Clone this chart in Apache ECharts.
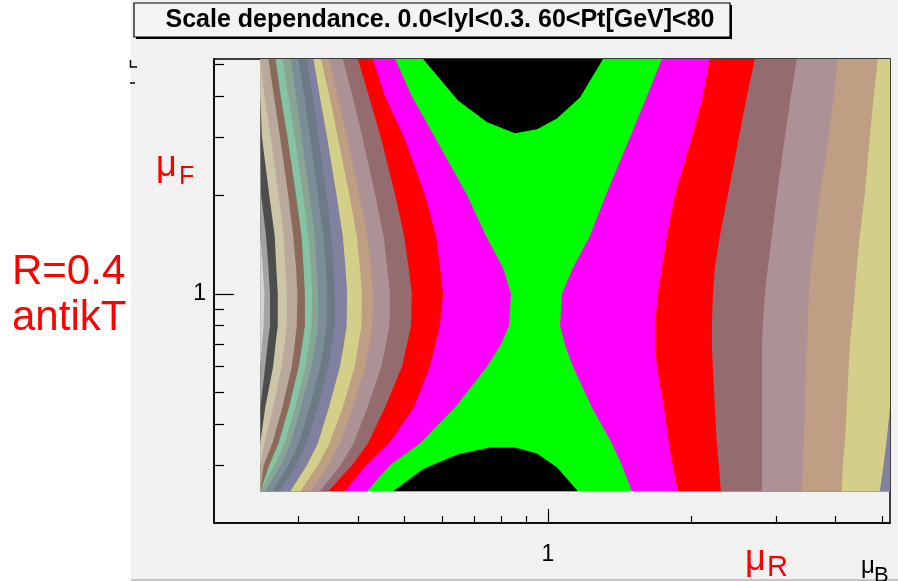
<!DOCTYPE html>
<html>
<head>
<meta charset="utf-8">
<script src="https://cdn.jsdelivr.net/npm/echarts@6/dist/echarts.min.js"></script>
<style>
html, body { margin: 0; padding: 0; background: #ffffff; }
#c { width: 898px; height: 581px; }
</style>
</head>
<body>
<div id="c"></div>
<script>
// Factorisation scale (mu_F) rows at which every contour edge is sampled, top to bottom
const muF = [5.2, 4, 3, 2, 1.5, 1.2, 1, 0.8, 0.7, 0.6, 0.45, 0.35, 0.3, 0.25];

// Renormalisation scale (mu_R) of each contour edge on the low-mu_R side, one value per mu_F row.
// leftEdgeN separates band N (to its left) from band N+1.
const leftEdge01 = [0.25,0.25,0.25,0.25,0.25,0.253,0.255,0.254,0.252,0.25,0.25,0.25,0.25,0.25];
const leftEdge02 = [0.25,0.25,0.25,0.251,0.257,0.26,0.262,0.262,0.259,0.256,0.25,0.25,0.25,0.25];
const leftEdge03 = [0.25,0.25,0.252,0.261,0.268,0.27,0.272,0.272,0.269,0.266,0.256,0.25,0.25,0.25];
const leftEdge04 = [0.25,0.255,0.263,0.273,0.28,0.282,0.284,0.284,0.281,0.277,0.266,0.255,0.25,0.25];
const leftEdge05 = [0.26,0.267,0.275,0.286,0.293,0.297,0.299,0.298,0.295,0.291,0.278,0.265,0.254,0.25];
const leftEdge06 = [0.269,0.276,0.285,0.297,0.305,0.308,0.31,0.31,0.306,0.301,0.287,0.273,0.261,0.25];
const leftEdge07 = [0.278,0.286,0.295,0.307,0.315,0.319,0.321,0.32,0.316,0.311,0.296,0.281,0.268,0.25];
const leftEdge08 = [0.289,0.297,0.305,0.317,0.325,0.328,0.33,0.33,0.326,0.32,0.304,0.289,0.276,0.256];
const leftEdge09 = [0.3,0.309,0.318,0.33,0.339,0.343,0.345,0.344,0.34,0.334,0.317,0.301,0.286,0.265];
const leftEdge10 = [0.313,0.322,0.331,0.344,0.352,0.356,0.358,0.358,0.353,0.347,0.33,0.312,0.297,0.275];
const leftEdge11 = [0.323,0.333,0.345,0.361,0.372,0.377,0.38,0.379,0.374,0.367,0.348,0.33,0.313,0.289];
const leftEdge12 = [0.335,0.349,0.363,0.384,0.398,0.404,0.408,0.407,0.401,0.394,0.372,0.349,0.33,0.303];
const leftEdge13 = [0.348,0.363,0.38,0.403,0.419,0.426,0.43,0.429,0.423,0.415,0.39,0.367,0.347,0.318];
const leftEdge14 = [0.372,0.39,0.409,0.435,0.453,0.461,0.467,0.466,0.458,0.448,0.419,0.392,0.368,0.333];
const leftEdge15 = [0.4,0.422,0.447,0.479,0.5,0.511,0.519,0.517,0.507,0.495,0.456,0.42,0.389,0.347];
const leftEdge16 = [0.43,0.456,0.5,0.553,0.583,0.595,0.603,0.594,0.581,0.566,0.524,0.465,0.416,0.376];
const leftEdge17 = [0.479,0.519,0.58,0.677,0.742,0.805,0.837,0.829,0.797,0.746,0.639,0.54,0.467,0.418];

// Contour edges on the high-mu_R side; rightEdgeN opens the band to its right.
const rightEdge1 = [1.732,1.611,1.485,1.322,1.224,1.128,1.07,1.06,1.085,1.128,1.236,1.361,1.428,1.499];
const rightEdge2 = [2.182,2.11,2.001,1.844,1.774,1.732,1.699,1.675,1.675,1.691,1.749,1.791,1.826,1.871];
const rightEdge3 = [2.711,2.608,2.51,2.38,2.29,2.236,2.214,2.204,2.204,2.214,2.236,2.257,2.279,2.301];
const rightEdge4 = [3.319,3.224,3.132,3.014,2.942,2.886,2.845,2.817,2.804,2.804,2.804,2.804,2.804,2.804];
const rightEdge5 = [4.043,3.966,3.872,3.707,3.619,3.55,3.516,3.499,3.482,3.465,3.449,3.432,3.416,3.399];
const rightEdge6 = [4.903,4.808,4.716,4.604,4.494,4.43,4.388,4.325,4.283,4.263,4.222,4.182,4.142,4.122];
const rightEdge7 = [5.2,5.2,5.2,5.2,5.2,5.2,5.2,5.2,5.2,5.2,5.2,5.11,5.04,4.95];

// Innermost contour: two closed islands near the top and bottom of the scan
const capTopR = [0.548,0.648,0.746,0.853,0.949,1.044,1.167,1.304];
const capTopF = [5.2,3.888,3.333,3.086,3.173,3.427,3.97,5.2];
const capBottomR = [0.474,0.548,0.648,0.756,0.853,0.949,1.044,1.156];
const capBottomF = [0.25,0.292,0.324,0.34,0.34,0.326,0.296,0.25];

// Scanned range of both scales
const scanRange = [0.25, 5.2];

// Axis ticks
const axisRange = [0.2, 5.2];
const minorTicks = [0.3,0.4,0.5,0.6,0.7,0.8,0.9,2,3,4,5];
const majorTicks = [1];

// Fill colours
const leftBandColors = ['#d4d4d4','#a3a3a3','#4d4d4d','#cdc5a8','#b9a89c','#8c6a5b','#84c4a4','#88a594',
  '#7b8e98','#6c7a86','#80809f','#d4cf88','#be9f83','#ac9195','#946b6f','#ff0000','#ff00ff'];
const rightBandColors = ['#ff00ff','#ff0000','#946b6f','#ac9195','#be9f83','#d4cf88','#80809f'];
const centreColor = '#00ff00';
const capColor = '#000000';

const leftEdges = [leftEdge01,leftEdge02,leftEdge03,leftEdge04,leftEdge05,leftEdge06,leftEdge07,leftEdge08,
  leftEdge09,leftEdge10,leftEdge11,leftEdge12,leftEdge13,leftEdge14,leftEdge15,leftEdge16,leftEdge17];
const rightEdges = [rightEdge1,rightEdge2,rightEdge3,rightEdge4,rightEdge5,rightEdge6,rightEdge7];

// Build filled regions in painting order (later ones cover earlier ones)
const lo = scanRange[0], hi = scanRange[1];
const layers = [];
layers.push({ color: centreColor, pts: [[lo, hi], [hi, hi], [hi, lo], [lo, lo]] });
for (let k = leftEdges.length - 1; k >= 0; k--) {
  const e = leftEdges[k], pts = [];
  for (let i = 0; i < muF.length; i++) pts.push([lo, muF[i]]);
  for (let i = muF.length - 1; i >= 0; i--) pts.push([e[i], muF[i]]);
  layers.push({ color: leftBandColors[k], pts });
}
for (let k = 0; k < rightEdges.length; k++) {
  const e = rightEdges[k], pts = [];
  for (let i = 0; i < muF.length; i++) pts.push([e[i], muF[i]]);
  for (let i = muF.length - 1; i >= 0; i--) pts.push([hi, muF[i]]);
  layers.push({ color: rightBandColors[k], pts });
}
layers.push({ color: capColor, pts: capTopR.map((r, i) => [r, capTopF[i]]) });
layers.push({ color: capColor, pts: capBottomR.map((r, i) => [r, capBottomF[i]]) });

const FONT = '"Liberation Sans", Arial, Helvetica, sans-serif';
const axisLineStyle = { color: '#000', width: 1.5 };

function logAxis(extra) {
  return Object.assign({
    type: 'log', logBase: 10, min: axisRange[0], max: axisRange[1],
    splitLine: { show: false }, minorSplitLine: { show: false },
  }, extra);
}

const chart = echarts.init(document.getElementById('c'), null, { renderer: 'canvas' });
chart.setOption({
  animation: false,
  backgroundColor: '#f1f1f1',
  grid: { left: 214, top: 59, right: 8, bottom: 58, show: true, borderColor: '#000', borderWidth: 1.5,
          backgroundColor: 'transparent', containLabel: false },
  xAxis: [
    logAxis({ position: 'bottom',
      axisLine: { show: true, onZero: false, lineStyle: axisLineStyle },
      axisTick: { show: true, inside: true, length: 7, customValues: minorTicks, lineStyle: { color: '#000', width: 1.2 } },
      axisLabel: { show: false } }),
    logAxis({ position: 'bottom',
      axisLine: { show: false, onZero: false },
      axisTick: { show: true, inside: true, length: 14, customValues: majorTicks, lineStyle: { color: '#000', width: 1.2 } },
      axisLabel: { show: true, customValues: majorTicks, margin: 20, color: '#000', fontSize: 23, fontFamily: FONT } })
  ],
  yAxis: [
    logAxis({ position: 'left',
      axisLine: { show: true, onZero: false, lineStyle: axisLineStyle },
      axisTick: { show: true, inside: true, length: 10, customValues: minorTicks, lineStyle: { color: '#000', width: 1.2 } },
      axisLabel: { show: false } }),
    logAxis({ position: 'left',
      axisLine: { show: false, onZero: false },
      axisTick: { show: true, inside: true, length: 20, customValues: majorTicks, lineStyle: { color: '#000', width: 1.2 } },
      axisLabel: { show: true, customValues: majorTicks, margin: 8, color: '#000', fontSize: 23, fontFamily: FONT } })
  ],
  series: [{
    type: 'custom',
    coordinateSystem: 'cartesian2d',
    xAxisIndex: 0, yAxisIndex: 0,
    clip: true, silent: true,
    encode: { x: 0, y: 1 },
    data: layers.map((l, i) => [1, 1, i]),
    renderItem: function (params, api) {
      const L = layers[api.value(2)];
      return {
        type: 'polygon',
        shape: { points: L.pts.map(p => api.coord(p)) },
        style: { fill: L.color }
      };
    }
  }],
  graphic: [
    { type: 'rect', z: -10, shape: { x: 0, y: 0, width: 131, height: 581 }, style: { fill: '#ffffff' } },
    { type: 'rect', z: -10, shape: { x: 131, y: 579, width: 767, height: 2 }, style: { fill: '#c4c4c4' } },
    // title pave with its shadow
    { type: 'rect', z: 5, shape: { x: 136, y: 5, width: 596, height: 34 }, style: { fill: '#000' } },
    { type: 'rect', z: 6, shape: { x: 134, y: 3, width: 596, height: 34 }, style: { fill: '#f3f3f3', stroke: '#000', lineWidth: 1.2 } },
    { type: 'text', z: 7, style: { x: 440, y: 20, text: 'Scale dependance. 0.0<lyl<0.3. 60<Pt[GeV]<80',
      font: 'bold 25px ' + FONT, fill: '#000', align: 'center', verticalAlign: 'middle' } },
    // left-hand annotations
    { type: 'text', z: 7, style: { x: 12, y: 272, text: 'R=0.4', font: '42px ' + FONT, fill: '#ff0000', align: 'left', verticalAlign: 'middle' } },
    { type: 'text', z: 7, style: { x: 12, y: 318, text: 'antikT', font: '42px ' + FONT, fill: '#ff0000', align: 'left', verticalAlign: 'middle' } },
    // axis titles
    { type: 'text', z: 7, style: { x: 156, y: 166, text: 'μ', font: '36px ' + FONT, fill: '#ff0000', align: 'left', verticalAlign: 'middle' } },
    { type: 'text', z: 7, style: { x: 179, y: 177, text: 'F', font: '25px ' + FONT, fill: '#ff0000', align: 'left', verticalAlign: 'middle' } },
    { type: 'text', z: 7, style: { x: 745, y: 560, text: 'μ', font: '36px ' + FONT, fill: '#ff0000', align: 'left', verticalAlign: 'middle' } },
    { type: 'text', z: 7, style: { x: 767, y: 568, text: 'R', font: '29px ' + FONT, fill: '#ff0000', align: 'left', verticalAlign: 'middle' } },
    { type: 'text', z: 7, style: { x: 861, y: 566, text: 'μ', font: '24px ' + FONT, fill: '#000', align: 'left', verticalAlign: 'middle' } },
    { type: 'text', z: 7, style: { x: 874, y: 576, text: 'B', font: '22px ' + FONT, fill: '#000', align: 'left', verticalAlign: 'middle' } },
    // stray marks at the left margin
    { type: 'polyline', z: 7, shape: { points: [[130.5, 60], [130.5, 67], [137, 67]] }, style: { stroke: '#000', lineWidth: 1.5, fill: null } },
    { type: 'line', z: 7, shape: { x1: 130, y1: 83, x2: 135, y2: 83 }, style: { stroke: '#000', lineWidth: 1.5 } }
  ]
});
</script>
</body>
</html>
